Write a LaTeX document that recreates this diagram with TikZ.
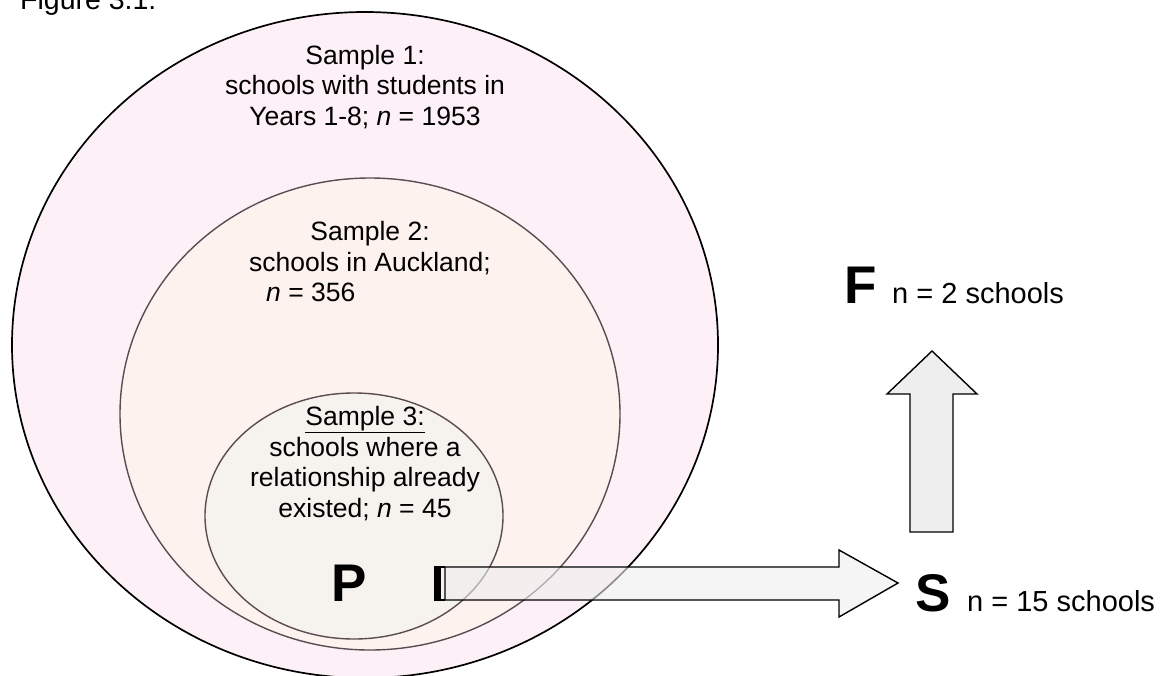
\documentclass[tikz,border=0pt]{standalone}
\usepackage{fontspec}
\setmainfont{Liberation Sans}
\definecolor{outerfill}{HTML}{FEF0F7}
\definecolor{midfill}{HTML}{FEF2EE}
\definecolor{innerfill}{HTML}{F6F2EE}
\definecolor{arrowfill}{HTML}{EEEEEE}
\definecolor{ringline}{HTML}{5A4C52}
\tikzset{
  x=1pt,y=-1pt,
  ring/.style={draw=ringline,line width=1.4pt},
  outerring/.style={draw=black,line width=1.7pt},
  lbl/.style={font=\fontsize{26.5}{30.5}\selectfont,align=center,inner sep=0pt},
  big/.style={font=\fontsize{53}{53}\selectfont\bfseries,inner sep=0pt,anchor=base west},
  cnt/.style={font=\fontsize{29}{33}\selectfont,inner sep=0pt,anchor=base west},
  blockarrow/.style={draw=black,line width=1.4pt,fill=arrowfill,line join=miter},
}
\begin{document}
\begin{tikzpicture}
\useasboundingbox (0,0) rectangle (1172,675);
\node[cnt,font=\fontsize{28.5}{33}\selectfont] (fig) at (20,9) {Figure 3.1:};
% ellipses
\path[outerring,fill=outerfill] (365,345) coordinate (c1) ellipse [x radius=353,y radius=333];
\path[ring,fill=midfill] (370,414) coordinate (c2) ellipse [x radius=250,y radius=236];
\path[ring,fill=innerfill] (354,516) coordinate (c3) ellipse [x radius=149,y radius=123];
% labels
\node[lbl,anchor=base] (s1) at (365,125) {Sample 1:\\schools with students in\\Years 1-8; \textit{n} = 1953};
\node[lbl,anchor=base] (s2a) at (370,271) {Sample 2:\\schools in Auckland;};
\node[lbl,anchor=base west] (s2b) at (266,301) {\textit{n} = 356};
\node[lbl,anchor=base] (s3) at (365,517) {\underline{Sample 3:}\\schools where a\\relationship already\\existed; \textit{n} = 45};
\node[big] (P) at (331,601) {P};
\node[big] (S) at (915,611) {S};
\node[big] (F) at (844,303) {F};
\node[cnt] (nS) at (967,611) {n = 15 schools};
\node[cnt] (nF) at (892,303) {n = 2 schools};
% striped right arrow P -> S
\draw[blockarrow,fill opacity=0.6] (445,567) -- (839,567) -- (839,550) -- (898,583) -- (839,617) -- (839,600) -- (445,600) -- cycle;
\fill[black] (434,566.3) rectangle (441,600.7);
\draw[black,line width=1.4pt] (434,567) -- (445,567) (434,600) -- (445,600);
% up arrow S -> F
\draw[blockarrow] (910,532) -- (910,394) -- (887,394) -- (932,351) -- (977,394) -- (953,394) -- (953,532) -- cycle;
\end{tikzpicture}
\end{document}
